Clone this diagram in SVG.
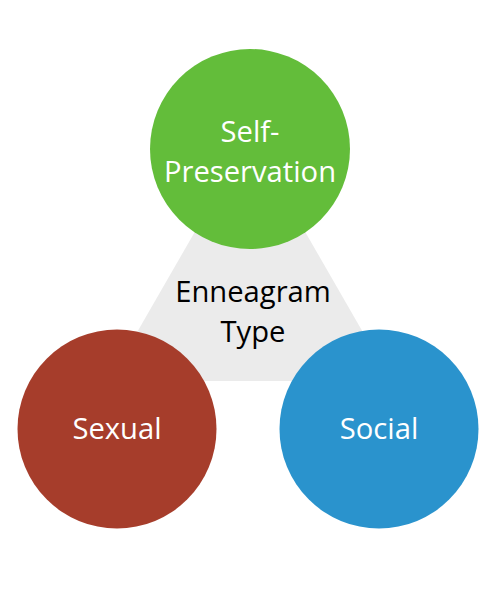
<svg xmlns="http://www.w3.org/2000/svg" width="500" height="600" viewBox="0 0 500 600">
<style>
.lbl{font-family:"Open Sans","Liberation Sans",sans-serif;font-size:29.2px;text-anchor:middle}
.w{fill:#ffffff}
.k{fill:#000000}
</style>
<rect width="500" height="600" fill="#ffffff"/>
<g id="center">
<polygon points="250,136 109,381 391,381" fill="#ebebeb"/>
<text class="lbl k" x="253" y="302">Enneagram</text>
<text class="lbl k" x="253" y="342">Type</text>
</g>
<g id="connectors"></g>
<g id="self-preservation">
<circle cx="250" cy="149" r="100" fill="#63bd3a"/>
<text class="lbl w" x="250" y="142">Self-</text>
<text class="lbl w" x="250" y="182">Preservation</text>
</g>
<g id="sexual">
<circle cx="117" cy="429" r="99.5" fill="#a63d2b"/>
<text class="lbl w" x="117" y="439">Sexual</text>
</g>
<g id="social">
<circle cx="379" cy="429" r="99.5" fill="#2a93cd"/>
<text class="lbl w" x="379" y="439">Social</text>
</g>
</svg>
